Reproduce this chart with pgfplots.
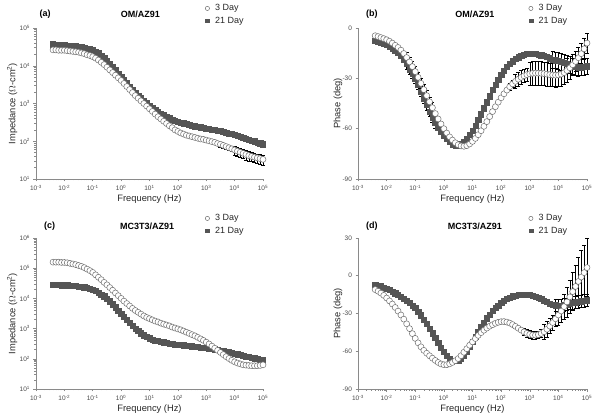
\documentclass[border=0pt]{standalone}
\usepackage{fontspec}
\setmainfont{Liberation Sans}
\setsansfont{Liberation Sans}
\usepackage{pgfplots}
\usepackage{pgfplotstable}
\pgfplotsset{compat=1.18}

\definecolor{sqgray}{HTML}{555555}
\definecolor{cgray}{HTML}{6E6E6E}
\definecolor{axgray}{HTML}{8A8A8A}
\definecolor{tkgray}{HTML}{4A4A4A}

% log10(f), log10|Z| (3 day, 21 day), relative errors
\pgfplotstableread{
lf s3 e3 s21 e21
-2.4 4.42 0 4.57 0
-2.3 4.42 0 4.56 0
-2.2 4.41 0 4.56 0
-2.1 4.41 0 4.55 0
-2.0 4.41 0 4.55 0
-1.9 4.40 0 4.54 0
-1.8 4.39 0 4.53 0
-1.7 4.38 0 4.53 0
-1.6 4.37 0 4.52 0
-1.5 4.36 0 4.51 0
-1.4 4.34 0 4.50 0
-1.3 4.32 0 4.48 0
-1.2 4.29 0 4.46 0
-1.1 4.27 0 4.44 0
-1.0 4.24 0 4.42 0
-0.9 4.20 0 4.38 0
-0.8 4.15 0 4.33 0
-0.7 4.09 0 4.27 0
-0.6 4.03 0 4.20 0
-0.5 3.96 0 4.13 0
-0.4 3.89 0 4.05 0
-0.3 3.82 0 3.97 0
-0.2 3.75 0 3.89 0
-0.1 3.68 0 3.80 0
0.0 3.61 0 3.72 0
0.1 3.53 0 3.63 0
0.2 3.45 0 3.54 0
0.3 3.37 0 3.45 0
0.4 3.29 0 3.37 0
0.5 3.21 0 3.29 0
0.6 3.14 0 3.21 0
0.7 3.07 0 3.14 0
0.8 3.00 0 3.07 0
0.9 2.93 0 3.01 0
1.0 2.86 0 2.95 0
1.1 2.79 0 2.89 0
1.2 2.72 0 2.83 0
1.3 2.65 0 2.78 0
1.4 2.59 0 2.73 0
1.5 2.53 0 2.69 0
1.6 2.47 0 2.65 0
1.7 2.41 0 2.61 0
1.8 2.36 0 2.58 0
1.9 2.30 0 2.55 0
2.0 2.26 0 2.52 0
2.1 2.22 0 2.50 0
2.2 2.19 0 2.48 0
2.3 2.16 0 2.46 0
2.4 2.14 0 2.44 0
2.5 2.12 0 2.42 0
2.6 2.10 0 2.40 0
2.7 2.08 0 2.39 0
2.8 2.06 0 2.37 0
2.9 2.05 0 2.36 0
3.0 2.03 0 2.34 0
3.1 2.01 0 2.33 0
3.2 1.99 0 2.31 0
3.3 1.97 0 2.30 0
3.4 1.94 0 2.28 0
3.5 1.92 0.15 2.27 0
3.6 1.89 0.15 2.25 0
3.7 1.86 0.15 2.23 0
3.8 1.83 0.15 2.21 0
3.9 1.80 0.15 2.19 0
4.0 1.77 0.28 2.17 0.12
4.1 1.74 0.28 2.15 0.12
4.2 1.71 0.28 2.12 0.12
4.3 1.68 0.28 2.10 0.12
4.4 1.65 0.28 2.07 0.12
4.5 1.62 0.28 2.05 0.12
4.6 1.60 0.28 2.02 0.12
4.7 1.58 0.28 2.00 0.12
4.8 1.56 0.28 1.97 0.12
4.9 1.54 0.28 1.95 0.12
5.0 1.52 0.28 1.92 0.12
}\tabA

% phase OM/AZ91 (deg) with errors
\pgfplotstableread{
lf s3 e3 s21 e21
-2.4 -4.6 0 -7.5 0
-2.3 -5.1 0 -8.0 0
-2.2 -5.7 0 -8.6 0
-2.1 -6.3 0 -9.3 0
-2.0 -7.0 0 -10.0 0
-1.9 -7.9 0 -11.0 0
-1.8 -9.0 0 -12.2 0
-1.7 -10.3 0 -13.5 0
-1.6 -11.6 0 -14.8 0
-1.5 -13.2 0 -16.5 0
-1.4 -15.2 0 -18.8 0
-1.3 -17.6 3 -21.5 3
-1.2 -20.2 3 -24.5 3
-1.1 -23.0 3 -27.2 3
-1.0 -26.0 3 -30.0 3
-0.9 -29.4 3 -33.8 3
-0.8 -33.0 3 -37.8 3
-0.7 -36.7 3 -41.8 3
-0.6 -40.3 3 -45.8 3
-0.5 -44.0 3 -49.7 3
-0.4 -47.5 3 -53.2 3
-0.3 -51.0 0 -56.6 3
-0.2 -54.2 0 -59.6 0
-0.1 -57.2 0 -62.0 0
0.0 -60.0 0 -64.0 0
0.1 -62.6 0 -66.0 0
0.2 -64.9 0 -67.8 0
0.3 -66.8 0 -69.2 0
0.4 -68.4 0 -70.0 0
0.5 -69.6 0 -70.0 0
0.6 -70.3 0 -69.2 0
0.7 -70.5 0 -67.8 0
0.8 -70.1 0 -65.8 0
0.9 -69.1 0 -63.6 0
1.0 -67.6 0 -61.0 0
1.1 -65.8 0 -58.0 0
1.2 -63.6 0 -54.8 0
1.3 -61.2 0 -51.4 0
1.4 -58.6 0 -47.8 0
1.5 -55.8 0 -44.2 0
1.6 -52.8 0 -40.6 0
1.7 -49.8 0 -37.0 0
1.8 -46.9 0 -33.6 0
1.9 -44.2 0 -30.6 0
2.0 -41.6 0 -27.8 0
2.1 -39.2 0 -25.3 0
2.2 -37.0 0 -23.2 0
2.3 -35.0 2 -21.4 0
2.4 -33.3 2 -19.8 0
2.5 -31.8 4 -18.5 0
2.6 -30.5 4 -17.4 0
2.7 -29.4 4 -16.5 0
2.8 -28.5 4 -15.9 0
2.9 -27.8 4 -15.5 0
3.0 -27.3 7 -15.3 0
3.1 -27.0 7 -15.3 0
3.2 -26.9 7 -15.5 0
3.3 -26.9 7 -15.8 0
3.4 -27.0 7 -16.2 0
3.5 -27.2 7 -16.7 0
3.6 -27.5 7 -17.3 0
3.7 -27.8 7 -18.0 0
3.8 -28.0 7 -18.7 5
3.9 -28.1 7 -19.2 5
4.0 -28.0 7 -19.6 5
4.1 -27.5 7 -20.0 5
4.2 -26.6 7 -20.5 5
4.3 -25.3 7 -21.2 5
4.4 -23.7 7 -22.0 5
4.5 -21.9 6 -22.8 5
4.6 -19.9 6 -23.3 5
4.7 -17.7 6 -23.5 5
4.8 -15.3 6 -23.4 5
4.9 -12.4 6 -23.2 5
5.0 -9.0 6 -22.8 5
}\tabB

% log10|Z| MC3T3/AZ91
\pgfplotstableread{
lf s3 s21
-2.4 5.20 4.45
-2.3 5.20 4.45
-2.2 5.20 4.45
-2.1 5.19 4.44
-2.0 5.19 4.44
-1.9 5.18 4.44
-1.8 5.16 4.43
-1.7 5.14 4.42
-1.6 5.12 4.41
-1.5 5.09 4.40
-1.4 5.06 4.39
-1.3 5.02 4.37
-1.2 4.97 4.35
-1.1 4.92 4.33
-1.0 4.86 4.30
-0.9 4.78 4.25
-0.8 4.70 4.19
-0.7 4.62 4.13
-0.6 4.53 4.07
-0.5 4.45 4.00
-0.4 4.36 3.91
-0.3 4.27 3.81
-0.2 4.18 3.71
-0.1 4.09 3.60
0.0 4.00 3.50
0.1 3.91 3.40
0.2 3.83 3.30
0.3 3.75 3.20
0.4 3.67 3.10
0.5 3.60 3.00
0.6 3.54 2.92
0.7 3.48 2.85
0.8 3.42 2.78
0.9 3.37 2.72
1.0 3.33 2.68
1.1 3.29 2.64
1.2 3.25 2.61
1.3 3.22 2.59
1.4 3.18 2.57
1.5 3.15 2.55
1.6 3.12 2.53
1.7 3.09 2.51
1.8 3.05 2.50
1.9 3.02 2.48
2.0 2.99 2.47
2.1 2.96 2.46
2.2 2.92 2.45
2.3 2.88 2.44
2.4 2.84 2.43
2.5 2.80 2.42
2.6 2.76 2.41
2.7 2.71 2.40
2.8 2.66 2.38
2.9 2.61 2.37
3.0 2.55 2.36
3.1 2.49 2.35
3.2 2.42 2.33
3.3 2.35 2.32
3.4 2.28 2.30
3.5 2.21 2.28
3.6 2.14 2.26
3.7 2.07 2.24
3.8 2.01 2.22
3.9 1.95 2.20
4.0 1.90 2.17
4.1 1.86 2.15
4.2 1.83 2.13
4.3 1.80 2.10
4.4 1.79 2.08
4.5 1.78 2.06
4.6 1.77 2.04
4.7 1.77 2.02
4.8 1.77 2.00
4.9 1.78 1.98
5.0 1.80 1.96
}\tabC

% phase MC3T3/AZ91 (deg) with errors
\pgfplotstableread{
lf s3 e3 s21 e21
-2.4 -11.0 0 -7.0 0
-2.3 -12.3 0 -7.6 0
-2.2 -13.8 0 -8.3 0
-2.1 -15.6 0 -9.2 0
-2.0 -17.7 0 -10.2 0
-1.9 -20.0 0 -11.3 0
-1.8 -22.5 0 -12.5 0
-1.7 -25.2 0 -13.8 0
-1.6 -28.1 0 -15.0 0
-1.5 -31.2 0 -16.4 0
-1.4 -34.5 0 -18.0 0
-1.3 -38.2 0 -19.8 0
-1.2 -42.0 0 -21.7 0
-1.1 -46.0 0 -23.6 0
-1.0 -49.8 0 -25.7 0
-0.9 -53.3 0 -28.4 0
-0.8 -56.5 0 -31.4 0
-0.7 -59.3 0 -34.7 0
-0.6 -61.6 0 -38.2 0
-0.5 -63.6 0 -41.8 0
-0.4 -65.5 0 -45.6 0
-0.3 -67.3 0 -49.5 0
-0.2 -68.9 0 -53.4 0
-0.1 -70.1 0 -57.1 0
0.0 -70.7 0 -60.5 0
0.1 -70.7 0 -63.5 0
0.2 -70.0 0 -65.8 0
0.3 -68.9 0 -67.2 0
0.4 -67.5 0 -67.6 0
0.5 -65.8 0 -67.2 0
0.6 -63.5 0 -65.8 0
0.7 -60.8 0 -63.3 0
0.8 -58.0 0 -60.0 0
0.9 -55.2 0 -56.4 0
1.0 -52.5 0 -52.5 0
1.1 -49.9 0 -48.5 0
1.2 -47.4 0 -44.5 0
1.3 -45.2 0 -40.6 0
1.4 -43.3 0 -37.0 0
1.5 -41.6 0 -33.8 0
1.6 -40.1 0 -30.8 0
1.7 -38.9 0 -28.0 0
1.8 -37.8 0 -25.7 0
1.9 -37.0 0 -23.6 0
2.0 -36.5 0 -21.7 0
2.1 -36.4 0 -20.0 0
2.2 -36.8 0 -18.5 0
2.3 -37.6 0 -17.3 0
2.4 -38.8 0 -16.3 0
2.5 -40.2 0 -15.6 0
2.6 -41.7 0 -15.1 0
2.7 -43.2 0 -14.9 0
2.8 -44.6 3 -14.8 0
2.9 -45.8 3 -14.9 0
3.0 -46.6 3 -15.2 0
3.1 -47.1 3 -15.7 0
3.2 -47.2 3 -16.4 0
3.3 -46.8 3 -17.3 0
3.4 -45.9 3 -18.4 0
3.5 -44.5 6 -19.6 0
3.6 -42.5 6 -20.8 0
3.7 -40.0 6 -21.9 0
3.8 -37.2 6 -22.8 0
3.9 -34.2 6 -23.4 5
4.0 -31.2 8 -23.6 5
4.1 -28.0 9 -23.5 5
4.2 -24.5 10 -23.1 5
4.3 -20.8 12 -22.6 5
4.4 -16.8 13 -22.0 5
4.5 -12.6 15 -21.5 5
4.6 -8.5 17 -21.0 5
4.7 -4.5 19 -20.6 5
4.8 -1.0 21 -20.2 5
4.9 2.5 22 -19.8 5
5.0 6.5 23 -19.4 5
}\tabD

\pgfplotsset{
  eis/.style={
    scale only axis, width=227pt, height=151pt,
    axis x line*=bottom, axis y line*=left,
    axis line style={axgray, line width=0.6pt},
    tick align=outside, major tick length=2.5pt, minor tick length=1.5pt,
    tick style={axgray, line width=0.5pt},
    xtick={1e-3,1e-2,1e-1,1,1e1,1e2,1e3,1e4,1e5},
    xticklabels={10\textsuperscript{-3},10\textsuperscript{-2},10\textsuperscript{-1},10\textsuperscript{0},10\textsuperscript{1},10\textsuperscript{2},10\textsuperscript{3},10\textsuperscript{4},10\textsuperscript{5}},
    ticklabel style={font=\fontsize{6.5}{7}\selectfont, text=tkgray},
    label style={font=\fontsize{9.3}{11}\selectfont, text=black!85},
    xlabel={Frequency (Hz)},
    xlabel style={at={(axis description cs:0.5,-0.13)}, anchor=center},
    clip=false,
    legend style={draw=none, fill=none, font=\fontsize{9}{10}\selectfont,
      text=black!85, anchor=north west, at={(axis description cs:0.745,1.17)},
      row sep=0.5pt, inner sep=0pt,
      /tikz/every odd column/.append style={column sep=3.5pt}},
    legend cell align=left,
    reverse legend,
  },
  sq/.style={only marks, mark=square*, mark size=2.6pt, color=sqgray,
    mark options={fill=sqgray, draw=sqgray}},
  ci/.style={only marks, mark=*, mark size=3pt, color=cgray,
    mark options={fill=white, draw=cgray, line width=0.5pt}},
  eb/.style={
    /pgfplots/error bars/y dir=both,
    /pgfplots/error bars/error bar style={black, line width=0.5pt},
    /pgfplots/error bars/error mark options={black, rotate=90, mark size=2pt, line width=0.5pt}},
}
\newcommand{\legsq}{\addlegendimage{only marks, mark=square*, mark size=1.8pt, color=sqgray}}
\newcommand{\legci}{\addlegendimage{only marks, mark=*, mark size=2.1pt, mark options={fill=white, draw=cgray, line width=0.5pt}}}

\begin{document}
\begin{tikzpicture}
\path (0pt,0pt) rectangle (600pt,418pt);

% (a)
\begin{axis}[eis, xmode=log, ymode=log, xmin=1e-3, xmax=1e5, ymin=10, ymax=1e5,
  at={(36pt,239pt)}, anchor=south west,
  ytick={1e1,1e2,1e3,1e4,1e5},
  yticklabels={10\textsuperscript{1},10\textsuperscript{2},10\textsuperscript{3},10\textsuperscript{4},10\textsuperscript{5}},
  ylabel={Impedance ($\Omega$-cm\textsuperscript{2})},
  ylabel style={at={(axis description cs:-0.105,0.5)}, anchor=center}]
\addplot[sq, eb, forget plot, /pgfplots/error bars/y explicit relative] table[x expr=10^(\thisrow{lf}), y expr=10^(\thisrow{s21}), y error=e21] {\tabA};
\addplot[ci, eb, forget plot, /pgfplots/error bars/y explicit relative] table[x expr=10^(\thisrow{lf}), y expr=10^(\thisrow{s3}), y error=e3] {\tabA};
\legsq \addlegendentry{21 Day}
\legci \addlegendentry{3 Day}
\node[font=\bfseries\fontsize{9}{10}\selectfont, anchor=west] at (axis description cs:0,1.09) {(a)};
\node[font=\bfseries\fontsize{9}{10}\selectfont] at (axis description cs:0.46,1.09) {OM/AZ91};
\end{axis}

% (b)
\begin{axis}[eis, xmode=log, xmin=1e-3, xmax=1e5, width=229pt,
  at={(358pt,239pt)}, anchor=south west,
  ymin=-90, ymax=0, ytick={-90,-60,-30,0}, yticklabels={-90,-60,-30,0},
  ylabel={Phase (deg)},
  ylabel style={at={(axis description cs:-0.088,0.5)}, anchor=center}]
\addplot[sq, eb, forget plot, /pgfplots/error bars/y explicit] table[x expr=10^(\thisrow{lf}), y=s21, y error=e21] {\tabB};
\addplot[ci, eb, forget plot, /pgfplots/error bars/y explicit] table[x expr=10^(\thisrow{lf}), y=s3, y error=e3] {\tabB};
\legsq \addlegendentry{21 Day}
\legci \addlegendentry{3 Day}
\node[font=\bfseries\fontsize{9}{10}\selectfont, anchor=west] at (axis description cs:0.02,1.09) {(b)};
\node[font=\bfseries\fontsize{9}{10}\selectfont] at (axis description cs:0.51,1.09) {OM/AZ91};
\end{axis}

% (c)
\begin{axis}[eis, xmode=log, ymode=log, xmin=1e-3, xmax=1e5, ymin=10, ymax=1e6,
  at={(36pt,29pt)}, anchor=south west,
  ytick={1e1,1e2,1e3,1e4,1e5,1e6},
  yticklabels={10\textsuperscript{1},10\textsuperscript{2},10\textsuperscript{3},10\textsuperscript{4},10\textsuperscript{5},10\textsuperscript{6}},
  ylabel={Impedance ($\Omega$-cm\textsuperscript{2})},
  ylabel style={at={(axis description cs:-0.105,0.5)}, anchor=center}]
\addplot[sq, forget plot] table[x expr=10^(\thisrow{lf}), y expr=10^(\thisrow{s21})] {\tabC};
\addplot[ci, forget plot] table[x expr=10^(\thisrow{lf}), y expr=10^(\thisrow{s3})] {\tabC};
\legsq \addlegendentry{21 Day}
\legci \addlegendentry{3 Day}
\node[font=\bfseries\fontsize{9}{10}\selectfont, anchor=west] at (axis description cs:0.02,1.08) {(c)};
\node[font=\bfseries\fontsize{9}{10}\selectfont] at (axis description cs:0.49,1.08) {MC3T3/AZ91};
\end{axis}

% (d)
\begin{axis}[eis, xmode=log, xmin=1e-3, xmax=1e5, width=229pt,
  at={(358pt,29pt)}, anchor=south west,
  ymin=-90, ymax=30, ytick={-90,-60,-30,0,30}, yticklabels={-90,-60,-30,0,30},
  ylabel={Phase (deg)},
  ylabel style={at={(axis description cs:-0.088,0.5)}, anchor=center}]
\addplot[sq, eb, forget plot, /pgfplots/error bars/y explicit] table[x expr=10^(\thisrow{lf}), y=s21, y error=e21] {\tabD};
\addplot[ci, eb, forget plot, /pgfplots/error bars/y explicit] table[x expr=10^(\thisrow{lf}), y=s3, y error=e3] {\tabD};
\legsq \addlegendentry{21 Day}
\legci \addlegendentry{3 Day}
\node[font=\bfseries\fontsize{9}{10}\selectfont, anchor=west] at (axis description cs:0.02,1.08) {(d)};
\node[font=\bfseries\fontsize{9}{10}\selectfont] at (axis description cs:0.51,1.08) {MC3T3/AZ91};
\end{axis}
\end{tikzpicture}
\end{document}
